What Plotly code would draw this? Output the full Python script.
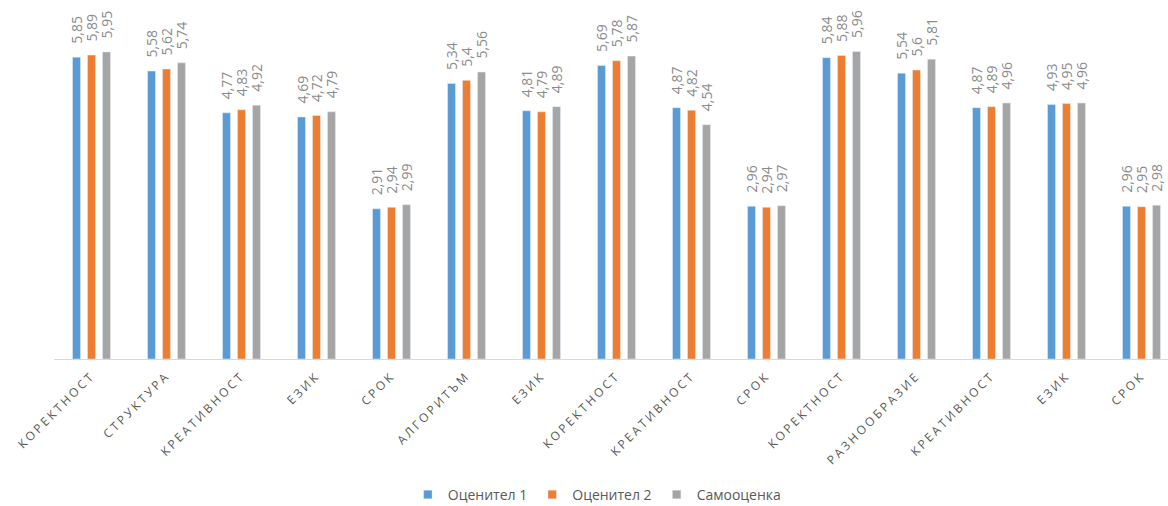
import plotly.graph_objects as go

categories = ["КОРЕКТНОСТ", "СТРУКТУРА", "КРЕАТИВНОСТ", "ЕЗИК", "СРОК",
              "АЛГОРИТЪМ", "ЕЗИК", "КОРЕКТНОСТ", "КРЕАТИВНОСТ", "СРОК",
              "КОРЕКТНОСТ", "РАЗНООБРАЗИЕ", "КРЕАТИВНОСТ", "ЕЗИК", "СРОК"]
rater1 = [5.85, 5.58, 4.77, 4.69, 2.91, 5.34, 4.81, 5.69, 4.87, 2.96, 5.84, 5.54, 4.87, 4.93, 2.96]
rater2 = [5.89, 5.62, 4.83, 4.72, 2.94, 5.4, 4.79, 5.78, 4.82, 2.94, 5.88, 5.6, 4.89, 4.95, 2.95]
self_eval = [5.95, 5.74, 4.92, 4.79, 2.99, 5.56, 4.89, 5.87, 4.54, 2.97, 5.96, 5.81, 4.96, 4.96, 2.98]

series = [("Оценител 1", rater1, "#5B9BD5"),
          ("Оценител 2", rater2, "#ED7D31"),
          ("Самооценка", self_eval, "#A5A5A5")]

# repeated category names need unique positions, so plot on indices
idx = list(range(len(categories)))

W, H = 1168, 506
ML, MB = 54, 147
px_per_cat = 75.0
plot_h = H - MB
px_per_unit = 51.6

fig = go.Figure()
annotations = []
offsets = [-15, 0, 15]
for (name, vals, color), dx in zip(series, offsets):
    fig.add_trace(go.Bar(x=idx, y=vals, name=name, marker_color=color))
    for i, v in zip(idx, vals):
        annotations.append(dict(
            x=i, y=v, xref="x", yref="y", text=f"{v:g}".replace(".", ","),
            showarrow=False, textangle=-90, xshift=dx, yshift=11,
            yanchor="bottom", xanchor="center",
            font=dict(family="Open Sans", size=14, color="#8c8c8c")))

fig.update_layout(
    width=W, height=H,
    margin=dict(l=ML, r=0, t=0, b=MB),
    paper_bgcolor="white", plot_bgcolor="white",
    barmode="group", bargap=0.4, bargroupgap=0.47,
    showlegend=True,
    legend=dict(orientation="h", xref="container", yref="container",
                x=0.511, xanchor="center", y=0.022, yanchor="middle",
                font=dict(family="Open Sans", size=14, color="#595959"),
                itemwidth=30, traceorder="normal"),
    annotations=annotations,
    xaxis=dict(
        tickmode="array", tickvals=idx, ticktext=categories,
        tickangle=-45, range=[-0.5, -0.5 + (W - ML) / px_per_cat],
        showline=True, linecolor="#d9d9d9", linewidth=1,
        showgrid=False, zeroline=False, ticks="", ticklabelstandoff=4,
        tickfont=dict(family="Open Sans", size=12, color="#595959")),
    yaxis=dict(range=[0, plot_h / px_per_unit], visible=False,
               showgrid=False, zeroline=False),
)

post = """
document.querySelectorAll('.xtick text').forEach(function(t){
  t.style.letterSpacing = '2.6px';
});
document.querySelectorAll('.legendpoints path').forEach(function(p){
  var tr = p.getAttribute('transform') || '';
  p.setAttribute('transform', tr + ' scale(0.7)');
});
"""
fig.write_html("out.html", post_script=post)
